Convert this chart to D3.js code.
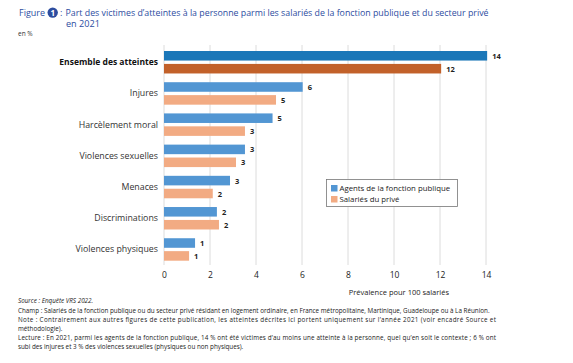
<!DOCTYPE html>
<html>
<head>
<meta charset="utf-8">
<script src="https://cdn.jsdelivr.net/npm/d3@7"></script>
<style>
  body { margin: 0; background: #fff; }
  svg { font-family: "Open Sans", sans-serif; }
</style>
</head>
<body>
<div id="chart"></div>
<script>
// data
var categories = ["Ensemble des atteintes", "Injures", "Harcèlement moral", "Violences sexuelles",
  "Menaces", "Discriminations", "Violences physiques"];
var publicValues = [14.05, 6.03, 4.72, 3.52, 2.87, 2.30, 1.35];
var priveValues = [12.05, 4.87, 3.52, 3.13, 2.12, 2.39, 1.09];
var publicLabels = ["14", "6", "5", "3", "3", "2", "1"];
var priveLabels = ["12", "5", "3", "3", "2", "2", "1"];
var seriesNames = ["Agents de la fonction publique", "Salariés du privé"];
var xTicks = [0, 2, 4, 6, 8, 10, 12, 14];

var width = 573, height = 363;

var svg = d3.select("#chart").append("svg")
  .attr("width", width)
  .attr("height", height);

// colours: first row darker
var colBlue = "#5296d3", colOrange = "#f2ab83";
var colBlueDark = "#1b77b8", colOrangeDark = "#c2612a";
var titleCol = "#2d4d9f";

var x = d3.scaleLinear()
  .domain([0, 14])
  .range([164, 486]);

var y = d3.scaleBand()
  .domain(categories)
  .range([51, 260.7])
  .paddingInner(0.28)
  .paddingOuter(0);

var ySub = d3.scaleBand()
  .domain([0, 1])
  .range([0, y.bandwidth()])
  .paddingInner(0.26);

// title
svg.append("text")
  .attr("x", 19)
  .attr("y", 15.8)
  .attr("fill", titleCol)
  .attr("font-size", 9.2)
  .attr("font-weight", 500)
  .attr("textLength", 26)
  .attr("lengthAdjust", "spacingAndGlyphs")
  .text("Figure");

svg.append("circle")
  .attr("cx", 52.7)
  .attr("cy", 12.6)
  .attr("r", 5.2)
  .attr("fill", titleCol);
svg.append("text")
  .attr("x", 52.7)
  .attr("y", 15.6)
  .attr("text-anchor", "middle")
  .attr("fill", "#fff")
  .attr("font-size", 8)
  .attr("font-weight", "bold")
  .text("1");

svg.append("text")
  .attr("x", 60)
  .attr("y", 15.8)
  .attr("fill", titleCol)
  .attr("font-size", 9.2)
  .text(":");

svg.append("text")
  .attr("x", 65.5)
  .attr("y", 15.8)
  .attr("fill", titleCol)
  .attr("font-size", 9.1)
  .attr("font-weight", 500)
  .attr("textLength", 423)
  .attr("lengthAdjust", "spacingAndGlyphs")
  .text("Part des victimes d’atteintes à la personne parmi les salariés de la fonction publique et du secteur privé");
svg.append("text")
  .attr("x", 66)
  .attr("y", 27.3)
  .attr("fill", titleCol)
  .attr("font-size", 9.1)
  .attr("font-weight", 500)
  .text("en 2021");

svg.append("text")
  .attr("x", 18)
  .attr("y", 35.8)
  .attr("fill", "#333")
  .attr("font-size", 6.5)
  .text("en %");

// gridlines
svg.append("g")
  .attr("class", "grid")
  .selectAll("line")
  .data(xTicks)
  .enter().append("line")
    .attr("x1", function(d) { return x(d); })
    .attr("x2", function(d) { return x(d); })
    .attr("y1", 45)
    .attr("y2", 265)
    .attr("stroke", "#dcdcdc")
    .attr("stroke-width", 1);

// x axis tick labels
var xAxis = svg.append("g")
  .attr("transform", "translate(0,265)")
  .call(d3.axisBottom(x).tickValues(xTicks).tickSize(0).tickPadding(7).tickFormat(d3.format("d")));
xAxis.select(".domain").remove();
xAxis.selectAll("text")
  .attr("font-family", "'Open Sans', sans-serif")
  .attr("font-size", 8.5)
  .attr("fill", "#222");

svg.append("text")
  .attr("x", 449)
  .attr("y", 295)
  .attr("text-anchor", "end")
  .attr("font-size", 7.5)
  .attr("fill", "#222")
  .text("Prévalence pour 100 salariés");

// bars
var rows = categories.map(function(c, i) {
  return { cat: c, i: i, vals: [publicValues[i], priveValues[i]], labels: [publicLabels[i], priveLabels[i]] };
});

var groups = svg.append("g").selectAll("g")
  .data(rows)
  .enter().append("g")
    .attr("transform", function(d) { return "translate(0," + y(d.cat) + ")"; });

groups.selectAll("rect")
  .data(function(d) { return d.vals.map(function(v, j) { return { v: v, j: j, first: d.i === 0 }; }); })
  .enter().append("rect")
    .attr("x", x(0))
    .attr("y", function(d) { return ySub(d.j); })
    .attr("height", ySub.bandwidth())
    .attr("width", function(d) { return x(d.v) - x(0); })
    .attr("fill", function(d) {
      if (d.first) return d.j === 0 ? colBlueDark : colOrangeDark;
      return d.j === 0 ? colBlue : colOrange;
    });

groups.selectAll("text.val")
  .data(function(d) { return d.vals.map(function(v, j) { return { v: v, j: j, lab: d.labels[j] }; }); })
  .enter().append("text")
    .attr("class", "val")
    .attr("x", function(d) { return x(d.v) + 5; })
    .attr("y", function(d) { return ySub(d.j) + ySub.bandwidth() / 2 + 3; })
    .attr("font-size", 7.5)
    .attr("font-weight", "bold")
    .attr("fill", "#222")
    .text(function(d) { return d.lab; });

// category labels
groups.append("text")
  .attr("x", 158)
  .attr("y", y.bandwidth() / 2 + 3)
  .attr("text-anchor", "end")
  .attr("font-size", function(d) { return d.i === 0 ? 8.5 : 8.8; })
  .attr("font-weight", function(d) { return d.i === 0 ? "bold" : "normal"; })
  .attr("fill", function(d) { return d.i === 0 ? "#111" : "#333"; })
  .text(function(d) { return d.cat; });

// legend
var legend = svg.append("g").attr("transform", "translate(326.5,179.5)");
legend.append("rect")
  .attr("width", 131)
  .attr("height", 27)
  .attr("fill", "#fff")
  .attr("stroke", "#777")
  .attr("stroke-width", 0.8);
legend.selectAll("g")
  .data(seriesNames)
  .enter().append("g")
    .attr("transform", function(d, i) { return "translate(4.5," + (5.5 + i * 11) + ")"; })
    .each(function(d, i) {
      var g = d3.select(this);
      g.append("rect").attr("width", 6.5).attr("height", 6.5).attr("fill", i === 0 ? colBlue : colOrange);
      g.append("text").attr("x", 8.5).attr("y", 6.2).attr("font-size", 7.8).attr("fill", "#222").text(d);
    });

// footnotes
var notes = [
  { t: "Source : Enquête VRS 2022.", y: 302.5, italic: true },
  { t: "Champ : Salariés de la fonction publique ou du secteur privé résidant en logement ordinaire, en France métropolitaine, Martinique, Guadeloupe ou à La Réunion.", y: 312.5 },
  { t: "Note : Contrairement aux autres figures de cette publication, les atteintes décrites ici portent uniquement sur l’année 2021 (voir encadré Source et", y: 321.5, justify: true },
  { t: "méthodologie).", y: 330.5 },
  { t: "Lecture : En 2021, parmi les agents de la fonction publique, 14 % ont été victimes d’au moins une atteinte à la personne, quel qu’en soit le contexte ; 6 % ont", y: 339.5, justify: true },
  { t: "subi des injures et 3 % des violences sexuelles (physiques ou non physiques).", y: 348.5 }
];
svg.append("g").selectAll("text")
  .data(notes)
  .enter().append("text")
    .attr("x", 18)
    .attr("y", function(d) { return d.y; })
    .attr("font-size", 6.3)
    .attr("fill", "#222")
    .attr("font-style", function(d) { return d.italic ? "italic" : "normal"; })
    .attr("textLength", function(d) { return d.justify ? 478 : null; })
    .attr("lengthAdjust", "spacing")
    .text(function(d) { return d.t; });
</script>
</body>
</html>
